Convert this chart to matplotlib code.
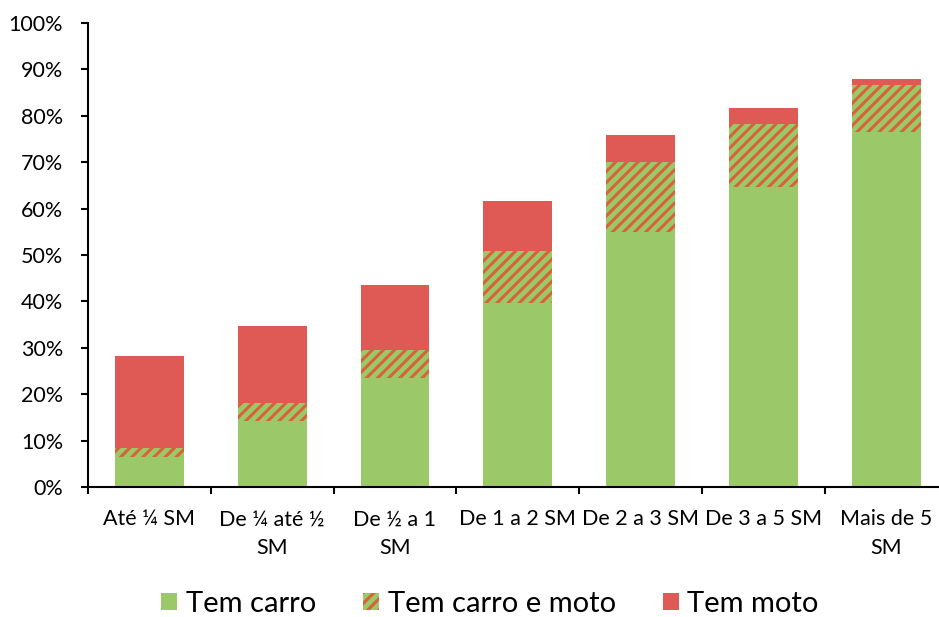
import matplotlib.pyplot as plt
from matplotlib.patches import Patch
import numpy as np

plt.rcParams['font.family'] = ['Lato', 'DejaVu Sans']
plt.rcParams['hatch.linewidth'] = 2.2

categorias = ['Até ¼ SM', 'De ¼ até ½\nSM', 'De ½ a 1\nSM', 'De 1 a 2 SM',
              'De 2 a 3 SM', 'De 3 a 5 SM', 'Mais de 5\nSM']
tem_carro = [6.5, 14.2, 23.4, 39.7, 55.0, 64.7, 76.6]
carro_e_moto = [1.9, 3.9, 6.1, 11.2, 15.0, 13.5, 10.0]
tem_moto = [19.8, 16.6, 14.0, 10.8, 5.9, 3.5, 1.3]

verde = '#9bc969'
vermelho = '#e05a55'
listra = '#d8623a'

fig = plt.figure(figsize=(9.39, 6.17), dpi=100)
ax = fig.add_axes([88 / 939, 1 - 487 / 617, (947.6 - 88) / 939, (487 - 23) / 617])

x = np.arange(len(categorias))
w = 0.56
c = np.array(tem_carro)
cm = np.array(carro_e_moto)
m = np.array(tem_moto)

ax.bar(x, c, w, color=verde, linewidth=0)
ax.bar(x, cm, w, bottom=c, color=verde, edgecolor=listra, hatch='///', linewidth=0)
ax.bar(x, m, w, bottom=c + cm, color=vermelho, linewidth=0)

ax.set_xlim(-0.5, len(categorias) - 0.5)
ax.set_ylim(0, 100)
ax.set_yticks(np.arange(0, 101, 10))
ax.set_yticklabels([f'{v}%' for v in range(0, 101, 10)], fontsize=15.5)
ax.set_xticks(x)
ax.set_xticklabels(categorias, fontsize=15.5, linespacing=1.55)
ax.tick_params(axis='x', which='major', length=0, pad=16)
ax.set_xticks(np.arange(-0.5, len(categorias)), minor=True)
ax.tick_params(axis='x', which='minor', length=5, width=1.5, direction='out')
ax.tick_params(axis='y', length=5, width=1.5, direction='out', pad=13)

for s in ['top', 'right']:
    ax.spines[s].set_visible(False)
for s in ['left', 'bottom']:
    ax.spines[s].set_linewidth(1.5)

handles = [Patch(facecolor=verde, linewidth=0),
           Patch(facecolor=verde, edgecolor=listra, hatch='///', linewidth=0),
           Patch(facecolor=vermelho, linewidth=0)]
fig.legend(handles, ['Tem carro', 'Tem carro e moto', 'Tem moto'],
           loc='center', bbox_to_anchor=(490 / 939, 1 - 604 / 617), ncol=3,
           frameon=False, fontsize=21, handlelength=0.55, handleheight=0.55,
           handletextpad=0.3, columnspacing=1.6)

fig.savefig('out.png', dpi=100)
